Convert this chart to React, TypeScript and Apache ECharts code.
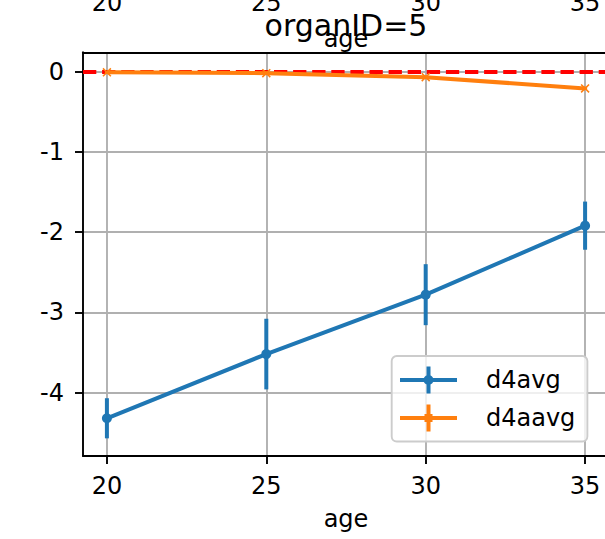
import React, { useEffect, useRef } from "react";
import * as echarts from "echarts";

const ages = [20, 25, 30, 35];
const d4avg = [-4.32, -3.52, -2.78, -1.92];
const d4avgErr = [0.25, 0.44, 0.38, 0.3];
const d4aavg = [-0.01, -0.02, -0.07, -0.21];
const d4aavgErr = [0.02, 0.02, 0.02, 0.02];
const xTicks = [20, 25, 30, 35];
const yTicks = [-4, -3, -2, -1, 0];
const titleText = "organID=5";
const xName = "age";

const FONT = "DejaVu Sans";
const BLUE = "#1f77b4";
const ORANGE = "#ff7f0e";
const LW = 4;

const xMarker =
  "path://M0,1.2 L1.2,0 L5,3.8 L8.8,0 L10,1.2 L6.2,5 L10,8.8 L8.8,10 L5,6.2 L1.2,10 L0,8.8 L3.8,5 Z";

function crossIcon(withDot: boolean) {
  // width 57, height 27, bar thickness 4
  let p =
    "path://M0,11.5 L57,11.5 L57,15.5 L0,15.5 Z M26.5,0 L30.5,0 L30.5,27 L26.5,27 Z";
  if (withDot) {
    p += " M23.5,13.5 A5,5 0 1,1 33.5,13.5 A5,5 0 1,1 23.5,13.5 Z";
  } else {
    p += " M24.5,9.5 L32.5,9.5 L32.5,17.5 L24.5,17.5 Z";
  }
  return p;
}

function errSeries(name: string, vals: number[], errs: number[], color: string) {
  return {
    type: "custom",
    name: name + "_err",
    xAxisIndex: 0,
    yAxisIndex: 0,
    z: 3,
    silent: true,
    data: ages.map((a, i) => [a, vals[i] - errs[i], vals[i] + errs[i]]),
    renderItem: (params: any, api: any) => {
      const x = api.value(0);
      const p1 = api.coord([x, api.value(1)]);
      const p2 = api.coord([x, api.value(2)]);
      return {
        type: "line",
        shape: { x1: p1[0], y1: p1[1], x2: p2[0], y2: p2[1] },
        style: { stroke: color, lineWidth: LW },
      };
    },
  };
}

export default function App() {
  const ref = useRef<HTMLDivElement>(null);
  useEffect(() => {
    if (!ref.current) return;
    const chart = echarts.init(ref.current, null, { renderer: "svg" });
    const axisText = { fontFamily: FONT, fontSize: 24, color: "#000" };
    chart.setOption({
      animation: false,
      backgroundColor: "#fff",
      textStyle: { fontFamily: FONT },
      grid: {
        left: 83,
        top: 52.3,
        right: -4,
        bottom: 83,
        containLabel: false,
        outerBoundsMode: "none",
      },
      graphic: [
        {
          type: "text",
          x: 346,
          y: 25.5,
          z: 100,
          style: {
            text: titleText,
            font: `30px "${FONT}"`,
            fill: "#000",
            textAlign: "center",
            textVerticalAlign: "middle",
          },
        },
      ],
      legend: {
        left: 391.7,
        top: 356,
        orient: "vertical",
        itemWidth: 57,
        itemHeight: 27,
        itemGap: 11,
        padding: [10.5, 12, 10, 8.3],
        backgroundColor: "rgba(255,255,255,0.8)",
        borderColor: "#cccccc",
        borderWidth: 1.9,
        borderRadius: 5,
        textStyle: { fontFamily: FONT, fontSize: 24, color: "#000", padding: [0, 0, 0, 24] },
        data: [
          { name: "d4avg", icon: crossIcon(true), itemStyle: { color: BLUE } },
          { name: "d4aavg", icon: crossIcon(false), itemStyle: { color: ORANGE } },
        ],
        z: 20,
      },
      xAxis: [
        {
          type: "value",
          position: "bottom",
          min: 19.25,
          max: 35.75,
          name: xName,
          nameLocation: "middle",
          nameGap: 51,
          nameMoveOverlap: false,
          nameTextStyle: axisText,
          axisLine: { show: true, onZero: false, lineStyle: { color: "#000", width: 1.9 } },
          axisTick: { show: true, length: 8, customValues: xTicks, lineStyle: { color: "#000", width: 1.9 } },
          axisLabel: { ...axisText, margin: 18, customValues: xTicks },
          splitLine: { show: true, lineStyle: { color: "#b0b0b0", width: 1.9 } },
        },
        {
          type: "value",
          position: "top",
          min: 19.25,
          max: 35.75,
          name: xName,
          nameLocation: "middle",
          nameGap: 1.5,
          nameMoveOverlap: false,
          nameTextStyle: axisText,
          axisLine: { show: true, onZero: false, lineStyle: { color: "#000", width: 1.9 } },
          axisTick: { show: false, customValues: xTicks },
          axisLabel: { ...axisText, margin: 37, customValues: xTicks },
          splitLine: { show: false },
        },
      ],
      yAxis: {
        type: "value",
        min: -4.79,
        max: 0.24,
        axisLine: { show: true, onZero: false, lineStyle: { color: "#000", width: 1.9 } },
        axisTick: { show: true, length: 8, customValues: yTicks, lineStyle: { color: "#000", width: 1.9 } },
        axisLabel: { ...axisText, margin: 19, customValues: yTicks },
        splitLine: { show: true, lineStyle: { color: "#b0b0b0", width: 1.9 } },
      },
      series: [
        {
          type: "line",
          name: "d4avg",
          z: 4,
          data: ages.map((a, i) => [a, d4avg[i]]),
          symbol: "circle",
          symbolSize: 10,
          itemStyle: { color: BLUE },
          lineStyle: { color: BLUE, width: LW },
          markLine: {
            silent: true,
            symbol: "none",
            label: { show: false },
            lineStyle: { color: "#ff0000", width: LW, type: [13.3, 5.8] },
            data: [{ yAxis: 0 }],
            z: 2,
          },
        },
        errSeries("d4avg", d4avg, d4avgErr, BLUE),
        {
          type: "line",
          name: "d4aavg",
          z: 5,
          data: ages.map((a, i) => [a, d4aavg[i]]),
          symbol: xMarker,
          symbolSize: 9,
          itemStyle: { color: ORANGE },
          lineStyle: { color: ORANGE, width: LW },
        },
        errSeries("d4aavg", d4aavg, d4aavgErr, ORANGE),
      ],
    });
    return () => chart.dispose();
  }, []);
  return (
    <div
      ref={ref}
      style={{ position: "fixed", left: 0, top: 0, width: 605, height: 539 }}
    />
  );
}
